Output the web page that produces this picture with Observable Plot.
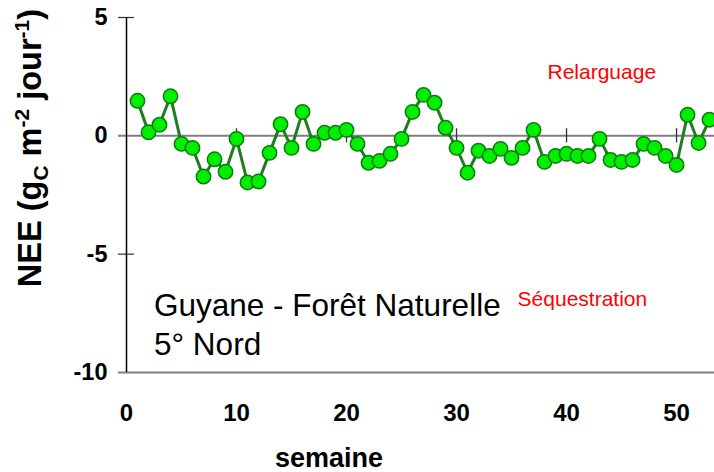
<!DOCTYPE html>
<html>
<head>
<meta charset="utf-8">
<script src="https://cdn.jsdelivr.net/npm/d3@7"></script>
<script src="https://cdn.jsdelivr.net/npm/@observablehq/plot@0.6"></script>
<style>
  html, body { margin: 0; padding: 0; background: #fff; }
  #chart { width: 714px; height: 472px; overflow: hidden; }
</style>
</head>
<body>
<div id="chart"></div>
<script>
const weeks = [1,2,3,4,5,6,7,8,9,10,11,12,13,14,15,16,17,18,19,20,21,22,23,24,25,26,27,28,29,30,31,32,33,34,35,36,37,38,39,40,41,42,43,44,45,46,47,48,49,50,51,52,53];
const nee = [1.48,0.15,0.47,1.67,-0.34,-0.51,-1.72,-0.99,-1.52,-0.13,-1.97,-1.93,-0.72,0.49,-0.51,1.01,-0.34,0.13,0.13,0.25,-0.34,-1.14,-1.06,-0.76,-0.13,1.01,1.73,1.40,0.34,-0.51,-1.56,-0.63,-0.85,-0.55,-0.93,-0.51,0.25,-1.10,-0.85,-0.76,-0.85,-0.85,-0.13,-1.02,-1.10,-1.02,-0.34,-0.51,-0.85,-1.23,0.89,-0.30,0.68];
const yTicks = [5, 0, -5, -10];
const xTicks = [0, 10, 20, 30, 40, 50];
const xMinorTicks = [10, 20, 30, 40, 50];
const labels = {
  above: "Relarguage",
  below: "Séquestration",
  site1: "Guyane - Forêt Naturelle",
  site2: "5° Nord",
  xTitle: "semaine"
};

const data = weeks.map((w, i) => ({week: w, nee: nee[i]}));
const font = "'Liberation Sans', Arial, Helvetica, sans-serif";

const chart = Plot.plot({
  width: 714,
  height: 472,
  marginLeft: 126,
  marginRight: 0,
  marginTop: 17,
  marginBottom: 100,
  style: {fontFamily: font, background: "#fff", overflow: "visible", color: "#000"},
  x: {domain: [0, 53.45], axis: null},
  y: {domain: [-10, 5], axis: null},
  marks: [
    Plot.axisY({ticks: yTicks, tickSize: 0, tickPadding: 19, fontSize: 23.5, fontWeight: "bold", label: null, tickFormat: d => String(d)}),
    Plot.axisX({ticks: xTicks, tickSize: 0, tickPadding: 31, fontSize: 24, fontWeight: "bold", label: null, tickFormat: d => String(d)}),
    Plot.ruleY([0, -10], {x1: -0.73, x2: 53.45, stroke: "#7f7f7f", strokeWidth: 2}),
    Plot.ruleY([5, -5], {x1: -0.73, x2: 0.73, stroke: "#333", strokeWidth: 1.2}),
    Plot.ruleX(xMinorTicks, {y1: -0.3, y2: 0.3, stroke: "#333", strokeWidth: 1.3}),
    Plot.ruleX([0], {y1: -10, y2: 5, stroke: "#000", strokeWidth: 1.5}),
    Plot.line(data, {x: "week", y: "nee", stroke: "#1e7d1e", strokeWidth: 3}),
    Plot.dot(data, {x: "week", y: "nee", r: 7.2, fill: "#00ee00", stroke: "#0b7d0b", strokeWidth: 1.5}),
    Plot.text([labels.above], {x: 38.27, y: 2.69, text: d => d, textAnchor: "start", fill: "#ff0000", fontSize: 21}),
    Plot.text([labels.below], {x: 35.55, y: -6.9, text: d => d, textAnchor: "start", fill: "#ff0000", fontSize: 21}),
    Plot.text([labels.site1], {x: 2.5, y: -7.2, text: d => d, textAnchor: "start", fill: "#000", fontSize: 31.5}),
    Plot.text([labels.site2], {x: 2.5, y: -8.82, text: d => d, textAnchor: "start", fill: "#000", fontSize: 31.5}),
    Plot.text([labels.xTitle], {x: 18.4, y: -13.62, text: d => d, textAnchor: "middle", fill: "#000", fontSize: 27, fontWeight: "bold"})
  ]
});

// Y-axis title with subscript / superscripts
const svg = d3.select(chart);
const t = svg.append("text")
  .attr("transform", "translate(41,148) rotate(-90)")
  .attr("text-anchor", "middle")
  .attr("font-family", font)
  .attr("font-weight", "bold")
  .attr("font-size", 32.5)
  .attr("fill", "#000");
t.append("tspan").text("NEE (g");
t.append("tspan").attr("font-size", 21).attr("dy", 7).text("C");
t.append("tspan").attr("dy", -7).text(" m");
t.append("tspan").attr("font-size", 21).attr("dy", -12).text("-2");
t.append("tspan").attr("dy", 12).text(" jour");
t.append("tspan").attr("font-size", 21).attr("dy", -12).text("-1");
t.append("tspan").attr("dy", 12).text(")");

document.getElementById("chart").appendChild(chart);
</script>
</body>
</html>
